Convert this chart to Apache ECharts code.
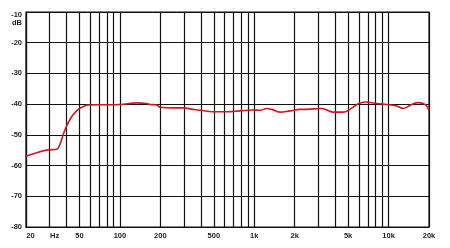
<!DOCTYPE html>
<html>
<head>
<meta charset="utf-8">
<script src="https://cdn.jsdelivr.net/npm/echarts@6/dist/echarts.min.js"></script>
<style>
html,body{margin:0;padding:0;background:#fff;}
#c{width:450px;height:248px;}
</style>
</head>
<body>
<div id="c"></div>
<script>
// Frequency (Hz) of each curve point
var freqs = [20, 24, 29.3, 33.9, 35.8, 37.9, 40.2, 42.5, 45, 49, 53.4, 58.2, 75, 100, 133, 158, 168, 188, 199, 249, 295, 350, 395, 526, 624, 784, 979, 1104, 1239, 1350, 1556, 1846, 2192, 2458, 3178, 3879, 4604, 5164, 5952, 6678, 8158, 9689, 11500, 12876, 14870, 16650, 18680, 20000];
// Level (dB) at each frequency
var levels = [-57.0, -55.8, -54.9, -54.7, -53.1, -49.8, -47.1, -45.0, -43.4, -41.7, -40.8, -40.3, -40.2, -40.1, -39.6, -39.8, -40.1, -40.3, -41.0, -41.2, -41.2, -41.7, -42.0, -42.5, -42.5, -42.2, -41.9, -42.0, -41.4, -41.7, -42.6, -42.2, -41.7, -41.7, -41.4, -42.6, -42.6, -41.7, -39.9, -39.3, -39.8, -40.1, -40.6, -41.4, -40.1, -39.5, -40.1, -42.0];
// Vertical grid line frequencies
var gridFreqs = [20, 30, 40, 50, 60, 70, 80, 90, 100, 200, 300, 400, 500, 600, 700, 800, 900, 1000, 2000, 3000, 4000, 5000, 6000, 7000, 8000, 9000, 10000, 20000];
// X tick labels
var labelFreqs = [20, 30, 50, 100, 200, 500, 1000, 2000, 5000, 10000, 20000];
var labelTexts = ['20', 'Hz', '50', '100', '200', '500', '1k', '2k', '5k', '10k', '20k'];
// Y ticks
var yMin = -80, yMax = -10, yStep = 10;
var yUnit = 'dB';

var lg = function (f) { return Math.log10(f); };
var data = freqs.map(function (f, i) { return [lg(f), levels[i]]; });

var font = 'Liberation Sans, Arial, sans-serif';
var chart = echarts.init(document.getElementById('c'), null, {renderer: 'canvas'});
chart.setOption({
  animation: false,
  backgroundColor: '#fff',
  grid: {left: 26, right: 21, top: 12, bottom: 21, show: true, borderColor: '#111', borderWidth: 1.2},
  xAxis: {
    type: 'value',
    min: lg(20), max: lg(20000),
    axisLine: {show: true, lineStyle: {color: '#111', width: 1.2}},
    axisTick: {show: false, customValues: gridFreqs.map(lg)},
    splitLine: {show: true, lineStyle: {color: '#111', width: 1.2}},
    axisLabel: {
      customValues: labelFreqs.map(lg),
      margin: 5,
      fontFamily: font, fontSize: 7.5, fontWeight: 'bold', color: '#222',
      formatter: function (v) {
        var best = 0, d = 1e9;
        for (var i = 0; i < labelFreqs.length; i++) {
          var dd = Math.abs(lg(labelFreqs[i]) - v);
          if (dd < d) { d = dd; best = i; }
        }
        if (best === 0) return '{l|' + labelTexts[0] + '}';
        if (best === 1) return '{h|' + labelTexts[1] + '}';
        return labelTexts[best];
      },
      rich: {
        l: {fontFamily: font, fontSize: 7.5, fontWeight: 'bold', color: '#222', padding: [0, 0, 0, 9]},
        h: {fontFamily: font, fontSize: 7.5, fontWeight: 'bold', color: '#222', padding: [0, 0, 0, 10]}
      }
    }
  },
  yAxis: {
    type: 'value',
    min: yMin, max: yMax, interval: yStep,
    axisLine: {show: true, lineStyle: {color: '#111', width: 1.2}},
    axisTick: {show: false},
    splitLine: {show: true, lineStyle: {color: '#111', width: 1.2}},
    axisLabel: {
      margin: 4,
      fontFamily: font, fontSize: 7.5, fontWeight: 'bold', color: '#222',
      formatter: function (v) {
        if (v === yMax) return '{a|' + v + '}\n{b|' + yUnit + '}';
        return String(v);
      },
      rich: {
        a: {fontFamily: font, fontSize: 7.5, fontWeight: 'bold', color: '#222', padding: [14, 0, 0, 0], align: 'right'},
        b: {fontFamily: font, fontSize: 7.5, fontWeight: 'bold', color: '#222', height: 9, align: 'right'}
      }
    }
  },
  series: [{
    type: 'line',
    data: data,
    showSymbol: false,
    smooth: 0.4,
    lineStyle: {color: '#d4161e', width: 1.6},
    z: 5
  }]
});
</script>
</body>
</html>
